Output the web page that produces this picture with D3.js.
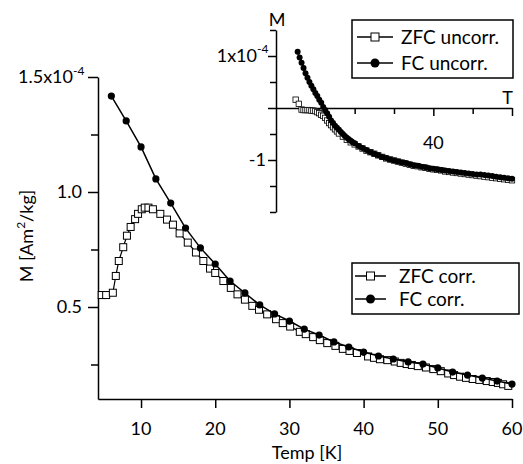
<!DOCTYPE html>
<html>
<head>
<meta charset="utf-8">
<script src="https://cdn.jsdelivr.net/npm/d3@7"></script>
<style>
    body { margin: 0; background: #fff; }
    svg { font-family: Lato, "Open Sans", sans-serif; }
    .axis path, .axis line { stroke: #000; stroke-width: 1.5; }
    .lbl { font-size: 18px; fill: #000; }
</style>
</head>
<body>
<div id="chart"></div>
<script>
// main plot: corrected data (M in units of 1e-4 Am2/kg)
const fcCorrT = [6, 8, 10, 12, 14, 16, 18, 20, 22, 24, 26, 28, 30, 32, 34, 36, 38, 40, 42, 44, 46, 48, 50, 52, 54, 56, 58, 60];
const fcCorrM = [1.417, 1.309, 1.196, 1.057, 0.952, 0.843, 0.757, 0.687, 0.613, 0.561, 0.509, 0.470, 0.439, 0.404, 0.378, 0.348, 0.326, 0.304, 0.287, 0.274, 0.261, 0.252, 0.235, 0.217, 0.204, 0.191, 0.178, 0.165];

const zfcCorrT = [4.7, 5.3, 6.2, 6.6, 7.0, 7.6, 8.1, 8.6, 9.2, 9.6, 10.1, 10.5, 11.0, 11.6, 12.6, 13.5, 14.3, 15.2, 16.3, 17.4, 18.4, 19.3, 20.0, 21.1, 22.1, 23.0, 24.0, 25.0, 25.9, 27.0, 28.2, 29.1, 30.1, 31.4, 32.2, 33.2, 34.1, 35.1, 36.2, 37.2, 38.1, 39.1, 40.6, 41.4, 42.2, 43.2, 44.2, 45.0, 45.8, 46.5, 47.3, 48.4, 49.4, 50.4, 51.4, 52.2, 53.0, 53.8, 54.7, 55.6, 56.6, 57.4, 58.1, 58.8, 59.5];
const zfcCorrM = [0.552, 0.552, 0.562, 0.635, 0.700, 0.760, 0.810, 0.848, 0.882, 0.905, 0.925, 0.932, 0.932, 0.925, 0.905, 0.880, 0.858, 0.820, 0.780, 0.737, 0.700, 0.667, 0.648, 0.613, 0.583, 0.555, 0.532, 0.505, 0.488, 0.468, 0.447, 0.430, 0.415, 0.392, 0.382, 0.369, 0.356, 0.343, 0.331, 0.318, 0.309, 0.300, 0.285, 0.279, 0.273, 0.269, 0.263, 0.257, 0.252, 0.248, 0.243, 0.237, 0.230, 0.221, 0.211, 0.204, 0.197, 0.192, 0.187, 0.183, 0.178, 0.174, 0.170, 0.164, 0.157];

// inset: uncorrected data
const fcUncT = [5.5, 6.0, 6.5, 7.0, 7.5, 8.0, 8.5, 9.0, 9.5, 10.0, 10.5, 11.0, 11.5, 12.0, 12.5, 13.0, 13.5, 14.0, 14.5, 15.0, 15.5, 16.0, 16.5, 17.0, 17.5, 18.0, 18.5, 19.0, 19.5, 20, 21, 22, 23, 24, 25, 26, 27, 28, 29, 30, 31, 32, 33, 34, 35, 36, 37, 38, 39, 40, 41, 42, 43, 44, 45, 46, 47, 48, 49, 50, 51, 52, 53, 54, 55, 56, 57, 58, 59, 60];
const fcUncM = [1.08, 0.97, 0.87, 0.77, 0.67, 0.58, 0.50, 0.43, 0.36, 0.29, 0.23, 0.16, 0.10, 0.02, -0.04, -0.10, -0.17, -0.24, -0.29, -0.34, -0.38, -0.42, -0.46, -0.50, -0.54, -0.57, -0.60, -0.63, -0.66, -0.68, -0.73, -0.77, -0.81, -0.85, -0.88, -0.91, -0.94, -0.96, -0.99, -1.01, -1.03, -1.05, -1.06, -1.08, -1.10, -1.11, -1.13, -1.14, -1.16, -1.17, -1.18, -1.19, -1.20, -1.21, -1.22, -1.23, -1.24, -1.25, -1.26, -1.27, -1.28, -1.28, -1.29, -1.30, -1.31, -1.32, -1.33, -1.34, -1.35, -1.36];

const zfcUncT = [5.0, 5.8, 6.5, 7.0, 7.5, 8.0, 8.5, 9.0, 9.5, 10.0, 10.5, 11.0, 11.5, 12.0, 12.5, 13.0, 13.5, 14.0, 14.5, 15.0, 15.5, 16.0, 17, 18, 19, 20, 21, 22, 23, 24, 25, 26, 27, 28, 29, 30, 31, 32, 33, 34, 35, 36, 37, 38, 39, 40, 41, 42, 43, 44, 45, 46, 47, 48, 49, 50, 51, 52, 53, 54, 55, 56, 57, 58, 59, 60];
const zfcUncM = [0.16, 0.08, -0.03, -0.04, -0.04, -0.04, -0.04, -0.05, -0.05, -0.06, -0.08, -0.10, -0.13, -0.15, -0.19, -0.24, -0.29, -0.33, -0.37, -0.41, -0.45, -0.49, -0.55, -0.61, -0.66, -0.70, -0.74, -0.78, -0.82, -0.85, -0.88, -0.91, -0.94, -0.97, -0.99, -1.01, -1.03, -1.05, -1.07, -1.09, -1.11, -1.12, -1.14, -1.15, -1.17, -1.18, -1.19, -1.20, -1.22, -1.23, -1.24, -1.25, -1.26, -1.27, -1.28, -1.29, -1.30, -1.31, -1.32, -1.33, -1.34, -1.35, -1.36, -1.37, -1.38, -1.39];

// ticks
const mainXTicks = [10, 20, 30, 40, 50, 60];
const mainYMajor = [0.5, 1.0, 1.5];
const mainYMinor = [0.25, 0.75, 1.25];
const mainYLabels = ['0.5', '1.0', '1.5x10'];
const insetXMajor = [40, 60];
const insetXMinor = [10, 20, 30, 50];
const insetXLabels = ['40'];
const insetYMajor = [-1, 0, 1];
const insetYMinor = [-2, -1.5, -0.5, 0.5, 1.5];
const insetYLabels = ['-1', '', '1x10'];

const mainLegend = ['ZFC corr.', 'FC corr.'];
const insetLegend = ['ZFC uncorr.', 'FC uncorr.'];

const width = 523;
const height = 464;

const svg = d3.select('#chart').append('svg')
    .attr('width', width)
    .attr('height', height);

const toPts = (ts, ms) => ts.map((t, i) => ({ x: t, y: ms[i] }));

// ---------- main plot ----------
const xScale = d3.scaleLinear().domain([4.2, 60]).range([98, 512]);
const yScale = d3.scaleLinear().domain([0.1, 1.5]).range([399, 77]);

svg.append('g').attr('class', 'axis')
    .attr('transform', 'translate(0,399)')
    .call(d3.axisBottom(xScale).tickValues(mainXTicks).tickSize(9).tickSizeOuter(0).tickFormat(''));

svg.append('g').attr('class', 'axis')
    .attr('transform', 'translate(98,0)')
    .call(d3.axisLeft(yScale).tickValues(mainYMajor).tickSize(10).tickSizeOuter(0).tickFormat(''));
svg.append('g').attr('class', 'axis')
    .attr('transform', 'translate(98,0)')
    .call(d3.axisLeft(yScale).tickValues(mainYMinor).tickSize(7).tickSizeOuter(0).tickFormat(''))
    .select('.domain').remove();

svg.selectAll('.xLabel')
    .data(mainXTicks)
    .enter().append('text')
    .attr('class', 'lbl')
    .attr('x', d => xScale(d))
    .attr('y', 435)
    .attr('text-anchor', 'middle')
    .text(String);

svg.selectAll('.yLabel')
    .data(mainYMajor)
    .enter().append('text')
    .attr('class', 'lbl')
    .attr('x', (d, i) => i === 2 ? 73 : 82)
    .attr('y', d => yScale(d) + 6)
    .attr('text-anchor', 'end')
    .text((d, i) => mainYLabels[i]);
svg.append('text').attr('class', 'lbl')
    .attr('x', 73).attr('y', yScale(1.5) - 2)
    .style('font-size', '12px')
    .text('-4');

svg.append('text').attr('class', 'lbl')
    .attr('x', 307).attr('y', 459)
    .attr('text-anchor', 'middle')
    .text('Temp [K]');

const ylab = svg.append('text').attr('class', 'lbl')
    .attr('transform', 'translate(33,236) rotate(-90)')
    .attr('text-anchor', 'middle');
ylab.append('tspan').text('M [Am');
ylab.append('tspan').attr('dy', -8).style('font-size', '12px').text('2');
ylab.append('tspan').attr('dy', 8).text('/kg]');

const line = d3.line().x(d => xScale(d.x)).y(d => yScale(d.y));

const zfcCorr = toPts(zfcCorrT, zfcCorrM);
const fcCorr = toPts(fcCorrT, fcCorrM);

svg.append('path').datum(zfcCorr)
    .attr('d', line).attr('fill', 'none').attr('stroke', '#000').attr('stroke-width', 1.2);
svg.selectAll('.zfcc').data(zfcCorr).enter().append('rect')
    .attr('x', d => xScale(d.x) - 3.5).attr('y', d => yScale(d.y) - 3.5)
    .attr('width', 7).attr('height', 7)
    .attr('fill', '#fff').attr('stroke', '#000').attr('stroke-width', 1);

svg.append('path').datum(fcCorr)
    .attr('d', line).attr('fill', 'none').attr('stroke', '#000').attr('stroke-width', 1.5);
svg.selectAll('.fcc').data(fcCorr).enter().append('circle')
    .attr('cx', d => xScale(d.x)).attr('cy', d => yScale(d.y))
    .attr('r', 3.6).attr('fill', '#000');

// ---------- inset ----------
const ixScale = d3.scaleLinear().domain([0, 60]).range([276, 512]);
const iyScale = d3.scaleLinear().domain([-2, 1.5]).range([212, 30]);

svg.append('g').attr('class', 'axis')
    .attr('transform', 'translate(0,' + iyScale(0) + ')')
    .call(d3.axisBottom(ixScale).tickValues(insetXMajor).tickSize(8).tickSizeOuter(0).tickFormat(''));
svg.append('g').attr('class', 'axis')
    .attr('transform', 'translate(0,' + iyScale(0) + ')')
    .call(d3.axisBottom(ixScale).tickValues(insetXMinor).tickSize(6).tickSizeOuter(0).tickFormat(''))
    .select('.domain').remove();

svg.append('g').attr('class', 'axis')
    .attr('transform', 'translate(276,0)')
    .call(d3.axisLeft(iyScale).tickValues(insetYMajor).tickSize(8).tickSizeOuter(0).tickFormat(''));
svg.append('g').attr('class', 'axis')
    .attr('transform', 'translate(276,0)')
    .call(d3.axisLeft(iyScale).tickValues(insetYMinor).tickSize(6).tickSizeOuter(0).tickFormat(''))
    .select('.domain').remove();

svg.append('text').attr('class', 'lbl')
    .attr('x', ixScale(40)).attr('y', 149)
    .attr('text-anchor', 'middle').text(insetXLabels[0]);
svg.append('text').attr('class', 'lbl')
    .attr('x', 513).attr('y', 104)
    .attr('text-anchor', 'end').text('T');
svg.append('text').attr('class', 'lbl')
    .attr('x', 277).attr('y', 26)
    .attr('text-anchor', 'middle').text('M');

svg.selectAll('.iyLabel')
    .data(insetYMajor)
    .enter().append('text')
    .attr('class', 'lbl')
    .attr('x', (d, i) => i === 2 ? 257 : 266)
    .attr('y', d => iyScale(d) + 6)
    .attr('text-anchor', 'end')
    .text((d, i) => insetYLabels[i]);
svg.append('text').attr('class', 'lbl')
    .attr('x', 257).attr('y', iyScale(1) - 3)
    .style('font-size', '12px')
    .text('-4');

const iline = d3.line().x(d => ixScale(d.x)).y(d => iyScale(d.y));
const zfcUnc = toPts(zfcUncT, zfcUncM);
const fcUnc = toPts(fcUncT, fcUncM);

svg.append('path').datum(zfcUnc)
    .attr('d', iline).attr('fill', 'none').attr('stroke', '#000').attr('stroke-width', 1);
svg.selectAll('.zfcu').data(zfcUnc).enter().append('rect')
    .attr('x', d => ixScale(d.x) - 2.7).attr('y', d => iyScale(d.y) - 2.7)
    .attr('width', 5.4).attr('height', 5.4)
    .attr('fill', '#fff').attr('stroke', '#000').attr('stroke-width', 0.8);

svg.append('path').datum(fcUnc)
    .attr('d', iline).attr('fill', 'none').attr('stroke', '#000').attr('stroke-width', 1.5);
svg.selectAll('.fcu').data(fcUnc).enter().append('circle')
    .attr('cx', d => ixScale(d.x)).attr('cy', d => iyScale(d.y))
    .attr('r', 3).attr('fill', '#000');

// ---------- legends ----------
const drawLegend = (x, y, w, h, rows, labels, lx1, lx2, tx) => {
    svg.append('rect')
        .attr('x', x).attr('y', y).attr('width', w).attr('height', h)
        .attr('fill', '#fff').attr('stroke', '#000').attr('stroke-width', 1.5);
    labels.forEach((txt, i) => {
        const ry = rows[i];
        const mx = (lx1 + lx2) / 2;
        svg.append('line')
            .attr('x1', lx1).attr('x2', lx2).attr('y1', ry).attr('y2', ry)
            .attr('stroke', '#000').attr('stroke-width', 1.5);
        if (i === 0) {
            svg.append('rect')
                .attr('x', mx - 4).attr('y', ry - 4).attr('width', 8).attr('height', 8)
                .attr('fill', '#fff').attr('stroke', '#000').attr('stroke-width', 1);
        } else {
            svg.append('circle').attr('cx', mx).attr('cy', ry).attr('r', 4.5).attr('fill', '#000');
        }
        svg.append('text').attr('class', 'lbl')
            .style('font-size', '19px')
            .attr('x', tx).attr('y', ry + 7).text(txt);
    });
};

drawLegend(352, 263, 167, 51, [276, 299], mainLegend, 355, 386, 399);
drawLegend(352, 20, 161, 58, [37, 63], insetLegend, 357, 393, 401);
</script>
</body>
</html>
